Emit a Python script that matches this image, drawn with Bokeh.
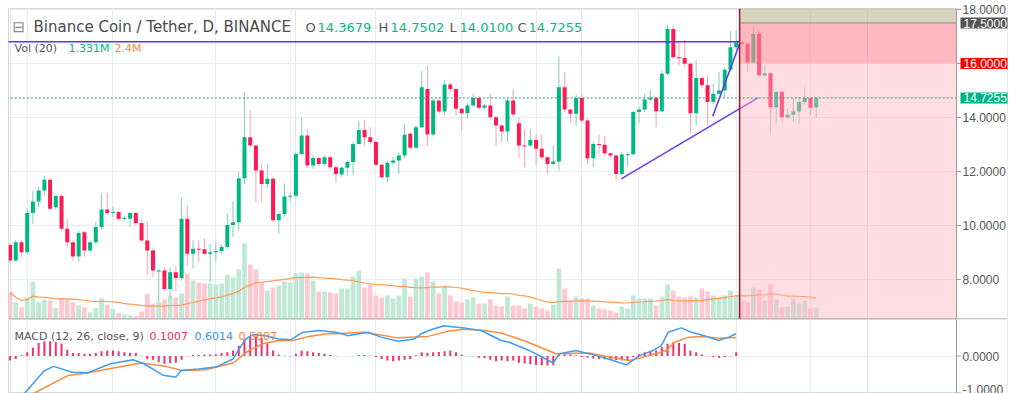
import numpy as np
import pandas as pd
from bokeh.plotting import figure
from bokeh.layouts import column
from bokeh.models import (ColumnDataSource, Range1d, FixedTicker, PrintfTickFormatter,
                          Grid, Span, Label)
from bokeh.embed import file_html
from bokeh.resources import INLINE

# ---------------- data (daily candles, BNB/USDT) ----------------
opens = [9.28, 8.70, 9.38, 9.01, 10.46, 10.89, 11.30, 11.69, 10.68, 11.09,
         9.88, 9.38, 8.85, 9.75, 9.07, 9.38, 9.94, 10.59, 10.46, 10.50,
         10.25, 10.25, 10.46, 10.09, 9.44, 9.07, 8.31, 8.33, 7.65, 8.27,
         8.06, 10.25, 8.95, 9.14, 9.12, 8.95, 9.01, 9.06, 9.20, 10.02,
         10.12, 11.75, 13.27, 12.96, 12.04, 11.54, 11.73, 10.19, 10.43, 11.07,
         11.10, 12.65, 13.33, 12.22, 12.50, 12.28, 12.53, 12.16, 11.89, 12.14,
         12.35, 13.02, 13.54, 13.27, 13.09, 12.25, 11.79, 12.32, 12.41, 12.59,
         13.40, 12.88, 13.64, 15.06, 13.37, 14.63, 14.22, 15.22, 15.06, 14.32,
         14.16, 14.44, 14.72, 14.36, 14.44, 14.01, 13.70, 13.48, 14.63, 13.79,
         12.96, 12.96, 13.17, 12.84, 12.53, 12.28, 12.37, 15.12, 14.30, 14.14,
         14.72, 13.89, 12.49, 13.02, 12.99, 12.68, 12.59, 11.91, 12.63, 12.64,
         14.20, 14.30, 14.67, 14.73, 14.23, 15.62, 17.28, 16.23, 16.20, 15.99,
         14.16, 15.46, 15.19, 14.57, 14.88, 15.00, 15.77, 16.60, 16.79, 16.73,
         16.05, 17.10, 15.56, 15.64, 14.38, 14.94, 14.01, 14.10, 14.22, 14.57,
         14.72, 14.3679]
highs = [9.35, 9.47, 9.45, 10.62, 11.30, 11.42, 11.85, 11.75, 11.15, 11.17,
         10.25, 9.45, 9.80, 9.80, 9.45, 10.14, 11.17, 11.20, 10.68, 10.55,
         10.35, 10.50, 10.50, 10.25, 10.14, 9.15, 8.40, 8.45, 8.45, 8.50,
         11.05, 10.74, 9.45, 9.45, 9.51, 9.32, 9.38, 9.30, 10.43, 10.91,
         11.98, 14.94, 14.27, 12.98, 12.26, 12.26, 11.80, 10.50, 11.56, 11.20,
         12.70, 14.00, 13.54, 12.60, 12.55, 12.60, 12.60, 12.20, 12.20, 12.40,
         13.10, 13.88, 13.91, 13.64, 13.15, 12.30, 12.40, 12.55, 12.70, 13.77,
         13.45, 13.70, 15.72, 15.93, 14.70, 14.70, 15.40, 15.30, 15.12, 14.35,
         14.55, 14.88, 14.80, 14.50, 14.88, 14.05, 13.75, 14.70, 15.06, 14.00,
         13.57, 13.57, 13.37, 13.37, 12.55, 12.96, 16.26, 15.68, 14.30, 14.85,
         14.90, 13.95, 13.10, 13.37, 13.31, 12.70, 12.62, 12.72, 12.70, 14.25,
         14.40, 14.88, 15.02, 14.75, 15.75, 17.44, 17.41, 16.85, 16.88, 16.05,
         16.12, 15.50, 15.56, 15.25, 15.69, 15.85, 17.20, 17.21, 16.85, 16.75,
         17.37, 17.25, 15.93, 15.70, 15.00, 15.00, 14.32, 14.69, 14.75, 15.12,
         14.75, 14.7502]
lows = [8.62, 8.65, 8.83, 8.95, 10.06, 10.68, 11.10, 10.56, 10.60, 9.80,
        9.20, 8.70, 8.64, 8.85, 9.00, 9.30, 9.85, 10.40, 10.31, 10.20,
        10.18, 9.94, 10.00, 9.40, 8.15, 8.09, 7.16, 7.60, 7.30, 7.55,
        7.95, 8.50, 8.40, 8.65, 8.90, 7.90, 8.64, 8.95, 9.10, 9.57,
        9.81, 11.54, 12.90, 10.86, 10.86, 11.40, 10.12, 9.69, 10.31, 10.90,
        11.00, 12.60, 12.15, 12.10, 12.20, 12.20, 12.10, 11.57, 11.79, 11.85,
        11.86, 13.00, 12.96, 13.00, 12.20, 11.75, 11.60, 12.25, 11.91, 12.50,
        12.80, 12.85, 13.60, 12.96, 13.30, 14.15, 14.10, 14.95, 14.07, 13.52,
        13.95, 14.40, 14.30, 14.30, 13.95, 12.96, 13.09, 13.09, 14.05, 12.50,
        12.16, 12.90, 12.23, 12.45, 11.91, 12.25, 12.04, 14.20, 13.80, 13.70,
        13.80, 12.28, 12.16, 12.65, 12.60, 12.50, 11.66, 11.85, 12.16, 12.60,
        13.79, 14.20, 14.60, 13.64, 14.20, 15.55, 16.20, 15.93, 15.86, 13.42,
        13.70, 15.10, 13.70, 14.50, 14.85, 14.75, 15.70, 16.50, 16.60, 15.67,
        16.00, 15.50, 15.50, 13.38, 13.77, 13.83, 13.95, 13.83, 13.77, 14.50,
        14.07, 14.0100]
closes = [8.70, 9.38, 9.01, 10.46, 10.89, 11.30, 11.69, 10.62, 11.09, 9.88,
          9.38, 8.85, 9.72, 9.07, 9.38, 9.94, 10.59, 10.46, 10.50, 10.25,
          10.28, 10.46, 10.09, 9.44, 9.07, 8.33, 8.33, 7.65, 8.27, 8.06,
          10.25, 8.95, 9.14, 9.10, 8.95, 9.01, 9.06, 9.20, 10.02, 10.12,
          11.75, 13.27, 12.96, 12.04, 11.54, 11.73, 10.19, 10.43, 11.07, 11.10,
          12.65, 13.33, 12.22, 12.50, 12.28, 12.53, 12.16, 11.91, 12.14, 12.35,
          13.02, 13.54, 13.27, 13.09, 12.25, 11.79, 12.32, 12.41, 12.59, 13.36,
          12.88, 13.64, 15.12, 13.37, 14.63, 14.22, 15.22, 15.06, 14.32, 14.16,
          14.44, 14.72, 14.36, 14.44, 14.01, 13.70, 13.48, 14.63, 14.11, 12.96,
          12.93, 13.17, 12.84, 12.53, 12.28, 12.37, 15.12, 14.30, 14.14, 14.72,
          13.89, 12.49, 13.02, 12.99, 12.68, 12.59, 11.91, 12.63, 12.64, 14.20,
          14.30, 14.67, 14.73, 14.23, 15.62, 17.28, 16.23, 16.20, 15.99, 14.16,
          15.46, 15.19, 14.57, 14.88, 15.00, 15.77, 16.60, 16.79, 16.73, 16.05,
          17.10, 15.56, 15.64, 14.38, 14.94, 14.01, 14.10, 14.22, 14.57, 14.72,
          14.36, 14.7255]
volumes_m = [3.10, 1.97, 1.40, 2.53, 4.32, 1.97, 2.27, 2.16, 1.28, 2.42,
             2.27, 1.97, 1.59, 1.40, 0.83, 1.28, 2.42, 1.67, 1.22, 0.72,
             0.57, 0.49, 0.38, 0.91, 2.92, 1.78, 1.97, 2.27, 2.73, 2.50,
             2.95, 5.23, 4.43, 4.20, 4.09, 4.09, 3.98, 4.09, 5.11, 4.77,
             5.68, 8.64, 6.25, 5.68, 4.20, 3.30, 3.64, 3.86, 4.32, 4.20,
             5.23, 5.34, 5.23, 4.43, 3.18, 3.18, 3.07, 2.95, 3.52, 3.52,
             4.89, 5.57, 3.64, 3.98, 2.73, 2.50, 2.73, 2.39, 2.73, 4.66,
             2.61, 4.66, 4.89, 5.34, 4.32, 2.95, 3.86, 2.73, 2.05, 1.93,
             2.27, 2.50, 1.82, 1.82, 2.27, 1.59, 1.48, 2.61, 1.59, 1.59,
             1.25, 1.82, 1.48, 1.25, 1.02, 1.70, 5.80, 3.52, 2.16, 2.61,
             2.39, 2.39, 1.59, 1.25, 1.14, 1.02, 0.80, 1.48, 1.25, 2.73,
             2.39, 2.39, 2.39, 1.59, 2.61, 3.98, 3.30, 2.61, 2.50, 2.61,
             2.50, 3.52, 3.18, 2.73, 2.50, 2.73, 3.30, 2.73, 2.16, 1.93,
             3.64, 3.41, 2.16, 3.98, 2.27, 1.36, 1.48, 2.39, 1.82, 2.16,
             1.25, 1.331]

# MACD (12, 26, close, 9) readings: bar index / value
macd_idx = [1.0, 2.7, 5.9, 7.6, 10.9, 13.6, 17.6, 21.5, 23.4, 26.9, 29.0, 29.9, 33.0,
            36.0, 39.0, 41.2, 42.5, 44.7, 47.0, 49.1, 51.2, 54.0, 57.0, 59.1, 62.6,
            64.9, 67.9, 70.7, 71.9, 73.6, 75.9, 79.4, 82.4, 85.9, 87.3, 90.8, 95.0,
            96.1, 99.0, 102.5, 105.5, 107.8, 110.1, 112.5, 113.9, 115.1, 117.4,
            119.2, 121.4, 123.9, 125.7, 127.0]
macd_vals = [-1.30, -0.98, -0.41, -0.28, -0.44, -0.45, -0.21, -0.10, -0.21, -0.53, -0.57,
             -0.39, -0.35, -0.30, -0.08, 0.46, 0.58, 0.55, 0.46, 0.44, 0.64, 0.69, 0.64,
             0.55, 0.64, 0.51, 0.40, 0.46, 0.60, 0.71, 0.82, 0.76, 0.69, 0.42, 0.37,
             0.15, -0.19, 0.06, 0.15, 0.01, -0.12, -0.24, 0.01, 0.15, 0.28, 0.64, 0.76,
             0.64, 0.55, 0.42, 0.51, 0.6014]
signal_idx = [0.0, 4.5, 10.1, 13.8, 17.6, 22.9, 27.2, 30.2, 34.2, 39.0, 41.8, 44.2, 47.0,
              49.5, 52.3, 55.3, 57.0, 61.9, 67.9, 73.1, 76.6, 79.4, 82.9, 85.9, 89.8,
              95.5, 101.3, 105.5, 108.3, 111.3, 114.8, 116.2, 118.7, 121.4, 123.9, 127.0]
signal_vals = [-1.40, -0.98, -0.53, -0.45, -0.34, -0.19, -0.28, -0.39, -0.37, -0.19, 0.15,
               0.33, 0.42, 0.42, 0.53, 0.60, 0.60, 0.64, 0.49, 0.53, 0.67, 0.72, 0.69,
               0.62, 0.42, 0.06, 0.08, -0.05, -0.12, -0.01, 0.15, 0.37, 0.51, 0.53, 0.48,
               0.5007]
hist_vals = [-0.12, -0.08, 0.02, 0.10, 0.22, 0.35, 0.40, 0.40, 0.37, 0.33,
             0.17, 0.08, 0.08, 0.06, 0.06, 0.08, 0.13, 0.15, 0.15, 0.13,
             0.10, 0.09, 0.08, 0.01, -0.08, -0.10, -0.17, -0.21, -0.19, -0.18,
             -0.10, -0.01, 0.03, 0.03, 0.04, 0.04, 0.05, 0.08, 0.10, 0.15,
             0.28, 0.46, 0.53, 0.53, 0.49, 0.33, 0.15, 0.04, 0.01, -0.01,
             0.06, 0.15, 0.13, 0.10, 0.08, 0.06, 0.03, 0.01, 0.00, 0.00,
             0.00, 0.03, 0.03, 0.01, -0.03, -0.08, -0.12, -0.14, -0.12, -0.10,
             -0.08, 0.02, 0.10, 0.08, 0.10, 0.11, 0.13, 0.15, 0.10, 0.04,
             -0.01, -0.01, -0.05, -0.06, -0.10, -0.14, -0.12, -0.14, -0.12, -0.18,
             -0.20, -0.22, -0.24, -0.25, -0.26, -0.24, 0.04, 0.05, 0.04, 0.02,
             -0.03, -0.05, -0.07, -0.08, -0.09, -0.10, -0.11, -0.12, -0.11, -0.03,
             0.05, 0.10, 0.12, 0.15, 0.24, 0.33, 0.37, 0.35, 0.33, 0.15,
             0.10, 0.04, -0.01, -0.03, -0.05, -0.03, -0.01, 0.10]

# drawings (bar index, price)
resistance_price = 16.81
resistance_end = 127.6
trend1_idx = [106.9, 130.8]
trend1_price = [11.73, 14.73]
trend2_idx = [122.9, 127.6]
trend2_price = [14.05, 16.73]
zone_start = 127.6
zone_entry = 16.0
zone_stop = 17.5
price_ticks = [8, 10, 12, 14, 16, 18]
macd_ticks = [-1, 0]
date_grid_idx = [3, 18, 36, 49, 64, 79, 92, 110, 127, 140]

# ---------------- pixel helpers (layout only) ----------------
PX0, DX = 9.55, 5.7175
def xi(px):
    return (px - PX0) / DX
def yp(py):
    return 14 + (117 - py) / 27.0
def ym(py):
    return (355.5 - py) / 37.0

GREEN = "#00b982"
RED = "#ff1a54"
GRID = "#e7edf2"
AXIS = "#9b9b9b"
FONT = "DejaVu Sans"
AXFONT = "Liberation Sans"
MAIN_BOTTOM = yp(319)
PANE_RIGHT = xi(956)          # price-scale strip starts here
X_END = xi(1007)

o = np.array(opens); h = np.array(highs); l = np.array(lows); c = np.array(closes)
v = np.array(volumes_m)
idx = np.arange(len(c))
up = c >= o
top = np.maximum(o, c)
bot = np.minimum(o, c)
bot = np.where(top - bot < 1 / 27.0, top - 1 / 27.0, bot)
vol_ma = pd.Series(v).rolling(20, min_periods=1).mean().values

x_range = Range1d(xi(8), X_END)


def make_fig(height, y_range, ticks, top_border):
    f = figure(frame_width=999, frame_height=height, x_range=x_range, y_range=y_range,
               output_backend="svg", toolbar_location=None, x_axis_location=None,
               y_axis_location="right", min_border_left=8, min_border_right=1,
               min_border_top=top_border, min_border_bottom=0,
               outline_line_color="#d5d8dc", background_fill_color="white",
               border_fill_color="white")
    t = FixedTicker(ticks=ticks)
    f.yaxis.ticker = t
    f.ygrid.ticker = t
    f.ygrid.grid_line_color = GRID
    f.yaxis.formatter = PrintfTickFormatter(format="%.4f")
    ax = f.yaxis
    ax.axis_line_color = None
    ax.major_tick_line_color = None
    ax.minor_tick_line_color = None
    ax.major_tick_out = 0
    ax.major_tick_in = 0
    ax.major_label_standoff = -45
    ax.major_label_text_font = AXFONT
    ax.major_label_text_font_size = "12px"
    ax.major_label_text_color = "#555555"
    f.add_layout(Grid(dimension=0, ticker=FixedTicker(ticks=date_grid_idx), grid_line_color=GRID))
    # blank price-scale strip, its axis line and tick marks
    f.quad(left=PANE_RIGHT, right=X_END + 1, bottom=y_range.start - 5, top=y_range.end + 5,
           fill_color="white", line_color=None)
    f.segment(x0=[PANE_RIGHT] * len(ticks), y0=ticks, x1=[xi(960.5)] * len(ticks), y1=ticks,
              line_color=AXIS, line_width=1)
    f.add_layout(Span(location=PANE_RIGHT, dimension="height", line_color=AXIS, line_width=1))
    return f


# ---------------- main pane ----------------
p = make_fig(311, Range1d(MAIN_BOTTOM, yp(8)), price_ticks, 8)
p.extra_y_ranges = {"vol": Range1d(0, 311 / 8.8)}

src_up = ColumnDataSource(dict(x=idx[up], h=h[up], l=l[up], t=top[up], b=bot[up], v=v[up]))
src_dn = ColumnDataSource(dict(x=idx[~up], h=h[~up], l=l[~up], t=top[~up], b=bot[~up], v=v[~up]))

# volume
p.vbar(x="x", top="v", bottom=0, width=0.82, source=src_up, y_range_name="vol",
       fill_color="#bfe8d6", line_color=None)
p.vbar(x="x", top="v", bottom=0, width=0.82, source=src_dn, y_range_name="vol",
       fill_color="#ffc7d1", line_color=None)
p.line(idx, vol_ma, y_range_name="vol", line_color="#ff9a4f", line_width=1.2)

# candles
p.segment(x0="x", y0="h", x1="x", y1="l", source=src_up, line_color="#86cdb9", line_width=1)
p.segment(x0="x", y0="h", x1="x", y1="l", source=src_dn, line_color="#f6a2b4", line_width=1)
p.vbar(x="x", top="t", bottom="b", width=0.7, source=src_up, fill_color=GREEN, line_color=None)
p.vbar(x="x", top="t", bottom="b", width=0.7, source=src_dn, fill_color=RED, line_color=None)

# drawings
p.line([xi(8) - 1, resistance_end], [resistance_price, resistance_price],
       line_color="#5b35f2", line_width=1.5)
p.line(trend1_idx, trend1_price, line_color="#6a3cf0", line_width=1.5)
p.line(trend2_idx, trend2_price, line_color="#5b35f2", line_width=1.5)

# short position zone overlay
zr = PANE_RIGHT - 0.05
p.quad(left=zone_start, right=zr, bottom=MAIN_BOTTOM - 1, top=zone_entry,
       fill_color="#ffb3c1", fill_alpha=0.45, line_color=None)
p.quad(left=zone_start, right=zr, bottom=zone_entry, top=zone_stop,
       fill_color="#ff8c9a", fill_alpha=0.62, line_color=None)
p.quad(left=zone_start, right=zr, bottom=zone_stop, top=yp(8) + 1,
       fill_color="#c2bb98", fill_alpha=0.65, line_color=None)
p.line([zone_start, zr], [zone_stop, zone_stop], line_color="#9c8c8c", line_width=1)

# last price line
p.line([xi(8) - 1, zr], [closes[-1], closes[-1]], line_color="#12a878",
       line_width=1, line_dash="2 2")

p.add_layout(Span(location=zone_start, dimension="height", line_color="#8a1a2c", line_width=1.5))
p.add_layout(Span(location=MAIN_BOTTOM, dimension="width", line_color="#9a9a9a", line_width=2))

# price tags on the price scale
for price, txt, bg in [(zone_stop, "17.5000", "#555555"), (zone_entry, "16.0000", "#ff0000"),
                       (closes[-1], "14.7255", "#00b386")]:
    p.add_layout(Label(x=xi(960), y=price, text=txt, text_font=AXFONT, text_font_size="12px",
                       text_color="white", text_baseline="middle", text_align="left",
                       background_fill_color=bg,
                       padding=dict(left=3, right=3, top=1, bottom=1)))

# header
def hdr(fig, px, y, txt, color, size):
    fig.add_layout(Label(x=xi(px), y=y, text=txt, text_font=FONT, text_font_size=size,
                         text_color=color, text_baseline="middle", text_align="left"))

hdr(p, 12, yp(26.5), "\u229f", "#8c8c8c", "15px")
hdr(p, 33, yp(26.5), "Binance Coin / Tether, D, BINANCE", "#4a4a4a", "15px")
for px, txt, col in [(305, "O", "#555555"), (317, "14.3679", GREEN),
                     (378, "H", "#555555"), (390, "14.7502", GREEN),
                     (449, "L", "#555555"), (459, "14.0100", GREEN),
                     (517, "C", "#555555"), (528, "14.7255", GREEN)]:
    hdr(p, px, yp(26.5), txt, col, "13px")
hdr(p, 14, yp(47.5), "Vol (20)", "#555555", "11px")
hdr(p, 68, yp(47.5), "1.331M", GREEN, "11px")
hdr(p, 114, yp(47.5), "2.4M", "#ff8a3d", "11px")

# ---------------- MACD pane ----------------
q = make_fig(74, Range1d(ym(393), ym(319)), macd_ticks, 0)

hidx = np.arange(len(hist_vals))
q.vbar(x=hidx, top=hist_vals, bottom=0, width=0.35, fill_color="#f2306e", line_color=None)
q.line(signal_idx, signal_vals, line_color="#ff8b3d", line_width=1.5)
q.line(macd_idx, macd_vals, line_color="#3d9df2", line_width=1.5)

hdr(q, 14, ym(335.5), "MACD (12, 26, close, 9)", "#555555", "11px")
hdr(q, 149, ym(335.5), "0.1007", "#ff2466", "11px")
hdr(q, 194, ym(335.5), "0.6014", "#2f95f0", "11px")
hdr(q, 238, ym(335.5), "0.5007", "#ff7f2a", "11px")

layout = column(p, q, spacing=0)
open("out.html", "w").write(file_html(layout, INLINE))
